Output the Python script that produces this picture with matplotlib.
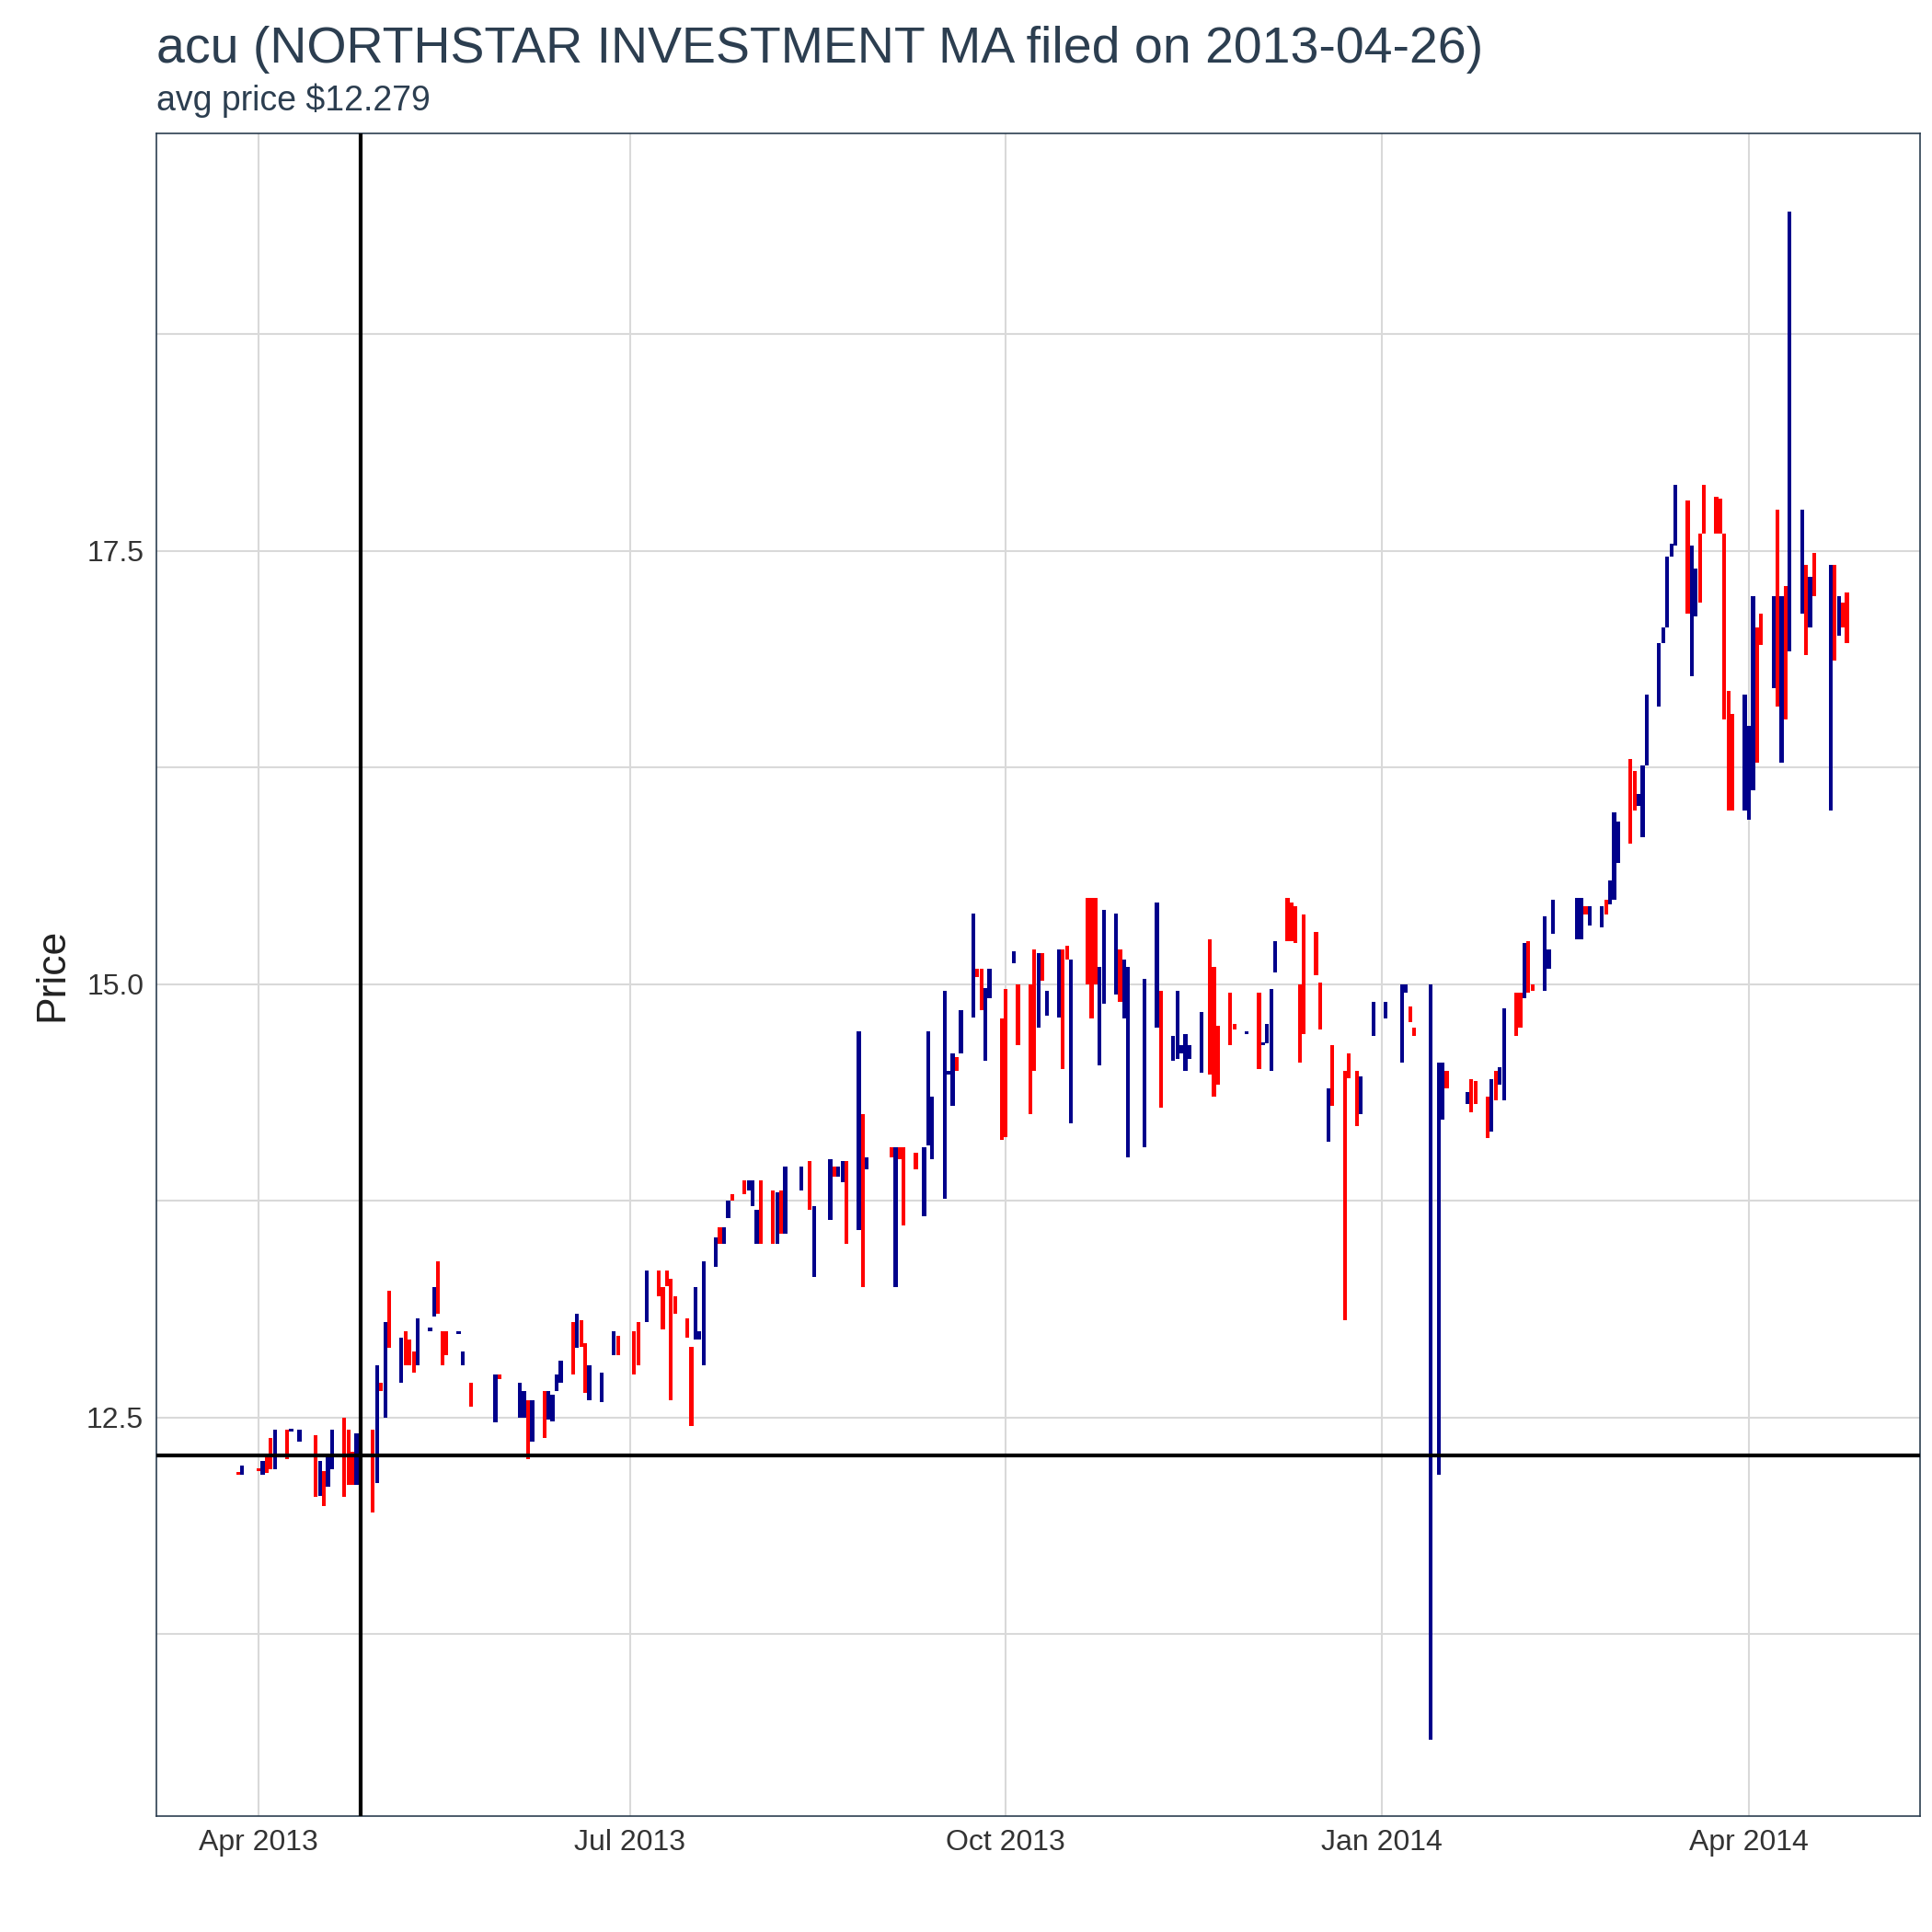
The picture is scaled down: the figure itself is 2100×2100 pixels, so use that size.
import matplotlib
matplotlib.use("Agg")
import matplotlib.pyplot as plt
import pandas as pd
import numpy as np

plt.rcParams['font.family'] = ['Liberation Sans', 'DejaVu Sans']

dates = ["2013-03-27","2013-03-28","2013-04-01","2013-04-02","2013-04-03","2013-04-04","2013-04-05","2013-04-08","2013-04-09","2013-04-11",
"2013-04-15","2013-04-16","2013-04-17","2013-04-18","2013-04-19","2013-04-22","2013-04-23","2013-04-24","2013-04-25","2013-04-26",
"2013-04-29","2013-04-30","2013-05-01","2013-05-02","2013-05-03","2013-05-06","2013-05-07","2013-05-08","2013-05-09","2013-05-10",
"2013-05-13","2013-05-14","2013-05-15","2013-05-16","2013-05-17","2013-05-20","2013-05-21","2013-05-23","2013-05-29","2013-05-30",
"2013-06-04","2013-06-05","2013-06-06","2013-06-07","2013-06-10","2013-06-11","2013-06-12","2013-06-13","2013-06-14","2013-06-17",
"2013-06-18","2013-06-19","2013-06-20","2013-06-21","2013-06-24","2013-06-27","2013-06-28","2013-07-02","2013-07-03","2013-07-05",
"2013-07-08","2013-07-09","2013-07-10","2013-07-11","2013-07-12","2013-07-15","2013-07-16","2013-07-17","2013-07-18","2013-07-19",
"2013-07-22","2013-07-23","2013-07-24","2013-07-25","2013-07-26","2013-07-29","2013-07-30","2013-07-31","2013-08-01","2013-08-02",
"2013-08-05","2013-08-06","2013-08-07","2013-08-08","2013-08-12","2013-08-14","2013-08-15","2013-08-19","2013-08-20","2013-08-21",
"2013-08-22","2013-08-23","2013-08-26","2013-08-27","2013-08-28","2013-09-03","2013-09-04","2013-09-05","2013-09-06","2013-09-09",
"2013-09-11","2013-09-12","2013-09-13","2013-09-16","2013-09-17","2013-09-18","2013-09-19","2013-09-20","2013-09-23","2013-09-24",
"2013-09-25","2013-09-26","2013-09-27","2013-09-30","2013-10-01","2013-10-03","2013-10-04","2013-10-07","2013-10-08","2013-10-09",
"2013-10-10","2013-10-11","2013-10-14","2013-10-15","2013-10-16","2013-10-17","2013-10-21","2013-10-22","2013-10-23","2013-10-24",
"2013-10-25","2013-10-28","2013-10-29","2013-10-30","2013-10-31","2013-11-04","2013-11-07","2013-11-08","2013-11-11","2013-11-12",
"2013-11-13","2013-11-14","2013-11-15","2013-11-18","2013-11-20","2013-11-21","2013-11-22","2013-11-25","2013-11-26","2013-11-29",
"2013-12-02","2013-12-03","2013-12-04","2013-12-05","2013-12-06","2013-12-09","2013-12-10","2013-12-11","2013-12-12","2013-12-13",
"2013-12-16","2013-12-17","2013-12-19","2013-12-20","2013-12-23","2013-12-24","2013-12-26","2013-12-27","2013-12-30","2014-01-02",
"2014-01-06","2014-01-07","2014-01-08","2014-01-09","2014-01-13","2014-01-15","2014-01-16","2014-01-17","2014-01-22","2014-01-23",
"2014-01-24","2014-01-27","2014-01-28","2014-01-29","2014-01-30","2014-01-31","2014-02-03","2014-02-04","2014-02-05","2014-02-06",
"2014-02-07","2014-02-10","2014-02-11","2014-02-12","2014-02-18","2014-02-19","2014-02-20","2014-02-21","2014-02-24","2014-02-25",
"2014-02-26","2014-02-27","2014-02-28","2014-03-03","2014-03-04","2014-03-05","2014-03-06","2014-03-07","2014-03-10","2014-03-11",
"2014-03-12","2014-03-13","2014-03-14","2014-03-17","2014-03-18","2014-03-19","2014-03-20","2014-03-21","2014-03-24","2014-03-25",
"2014-03-26","2014-03-27","2014-03-28","2014-03-31","2014-04-01","2014-04-02","2014-04-03","2014-04-04","2014-04-07","2014-04-08",
"2014-04-09","2014-04-10","2014-04-11","2014-04-14","2014-04-15","2014-04-16","2014-04-17","2014-04-21","2014-04-22","2014-04-23",
"2014-04-24","2014-04-25"]

lows = [12.17,12.17,12.19,12.17,12.18,12.20,12.20,12.26,12.42,12.36,
12.04,12.05,11.99,12.10,12.20,12.04,12.11,12.11,12.11,12.22,
11.95,12.12,12.65,12.50,12.90,12.70,12.80,12.80,12.76,12.80,
13.00,13.08,13.10,12.80,12.86,12.98,12.80,12.56,12.47,12.72,
12.50,12.50,12.26,12.36,12.38,12.49,12.48,12.65,12.70,12.75,
12.90,12.91,12.64,12.60,12.59,12.86,12.86,12.75,12.80,13.05,
13.20,13.01,13.26,12.60,13.10,12.96,12.45,12.95,12.95,12.80,
13.37,13.50,13.50,13.65,13.75,13.79,13.81,13.72,13.50,13.50,
13.50,13.50,13.56,13.56,13.81,13.70,13.31,13.64,13.89,13.89,
13.86,13.50,13.58,13.25,13.93,14.00,13.25,13.99,13.61,13.93,
13.66,14.07,13.99,13.76,14.48,14.30,14.50,14.60,14.81,15.04,
14.85,14.56,14.92,14.10,14.12,15.12,14.65,14.25,14.50,14.75,
15.02,14.82,14.81,14.51,15.14,14.20,15.00,14.80,15.00,14.53,
14.89,14.94,14.90,14.80,14.00,14.06,14.75,14.29,14.56,14.57,
14.60,14.50,14.57,14.49,14.48,14.35,14.42,14.65,14.74,14.71,
14.51,14.65,14.66,14.50,15.07,15.25,15.25,15.24,14.55,14.71,
15.05,14.74,14.09,14.30,13.06,14.46,14.18,14.25,14.70,14.80,
14.55,14.95,14.78,14.70,10.64,12.17,14.22,14.40,14.31,14.26,
14.31,14.11,14.15,14.33,14.42,14.33,14.70,14.75,14.92,14.95,
14.96,14.96,15.09,15.29,15.26,15.26,15.40,15.34,15.33,15.40,
15.46,15.49,15.70,15.81,16.00,16.03,15.85,16.26,16.60,16.97,
17.06,17.47,17.53,17.14,16.78,17.12,17.20,17.60,17.60,17.60,
16.53,16.00,16.00,16.00,15.95,16.12,16.28,16.96,16.71,16.60,
16.28,16.53,16.92,17.14,16.90,17.06,17.24,16.00,16.87,17.01,
17.06,16.97]

highs = [12.18,12.22,12.20,12.25,12.27,12.38,12.43,12.43,12.43,12.43,
12.40,12.25,12.19,12.27,12.43,12.50,12.43,12.30,12.41,12.43,
12.43,12.80,12.70,13.05,13.23,12.96,13.00,12.95,12.88,13.07,
13.02,13.25,13.40,13.00,13.00,13.00,12.88,12.70,12.75,12.75,
12.70,12.65,12.60,12.60,12.65,12.65,12.63,12.75,12.83,13.05,
13.10,13.06,12.93,12.80,12.76,13.00,12.97,13.00,13.05,13.35,
13.35,13.25,13.35,13.30,13.20,13.07,12.91,13.25,13.00,13.40,
13.54,13.60,13.60,13.75,13.79,13.87,13.87,13.87,13.70,13.87,
13.81,13.80,13.81,13.95,13.95,13.98,13.72,13.99,13.95,13.95,
13.98,13.98,14.73,14.25,14.00,14.06,14.06,14.06,14.06,14.03,
14.06,14.73,14.35,14.96,14.50,14.60,14.58,14.85,15.41,15.09,
15.09,14.98,15.09,14.80,14.97,15.19,15.00,15.00,15.20,15.18,
15.18,14.96,15.20,15.20,15.22,15.14,15.50,15.50,15.50,15.10,
15.43,15.41,15.20,15.14,15.10,15.03,15.47,14.96,14.70,14.96,
14.65,14.71,14.65,14.84,15.26,15.10,14.76,14.95,14.77,14.73,
14.95,14.66,14.77,14.97,15.25,15.50,15.47,15.45,15.00,15.40,
15.30,15.01,14.40,14.65,14.50,14.60,14.50,14.47,14.90,14.90,
15.00,15.00,14.87,14.75,15.00,14.55,14.55,14.50,14.38,14.45,
14.44,14.35,14.45,14.50,14.52,14.86,14.95,14.95,15.24,15.25,
15.00,15.39,15.20,15.49,15.50,15.50,15.45,15.45,15.45,15.49,
15.60,15.99,15.94,16.30,16.23,16.10,16.26,16.67,16.97,17.06,
17.47,17.54,17.88,17.79,17.53,17.40,17.60,17.88,17.81,17.80,
17.60,16.69,16.56,16.67,16.49,17.24,17.06,17.14,17.24,17.74,
17.24,17.30,19.46,17.74,17.42,17.35,17.49,17.42,17.42,17.24,
17.20,17.26]

# 'u' = blue (up day), 'd' = red (down day)
direction = ("dududduduu" "duduuddduu" "dudududddu" "uuddduudud" "uududuuuud"
             "udduuudddu" "ddddddduuu" "uduudduuud" "duduuduudu" "ududududdd"
             "uuuuuuduud" "duudduddd" "u" "duudduddd" "u" "uuduuuuduu" "uuuudddddu"
             "duuuuddddd" "ddudddduuu" "uudduuudud" "dduduuddud" "duuuuuduud"
             "uuudduuuuu" "uuuduudddd" "ddduuuddud" "uduududud" "u" "dd")

n = min(len(dates), len(lows), len(highs), len(direction))
d = pd.to_datetime(dates[:n])
lo = np.array(lows[:n]); hi = np.array(highs[:n])
cols = ["#00008B" if c == "u" else "#FF0000" for c in direction[:n]]

fig = plt.figure(figsize=(21, 21), dpi=100)
ax = fig.add_axes([0.081, 0.060, 0.913, 0.871])
ax.bar(d, np.maximum(hi - lo, 0.015), bottom=lo, width=0.95, color=cols, linewidth=0, zorder=3)
ax.axhline(12.279, color="black", lw=3, zorder=4)
ax.axvline(pd.Timestamp("2013-04-26"), color="black", lw=3, zorder=4)

ax.set_xlim(pd.Timestamp("2013-03-07"), pd.Timestamp("2014-05-13"))
ax.set_ylim(10.2, 19.91)
ax.set_yticks([12.5, 15.0, 17.5])
ax.set_yticks([11.25, 13.75, 16.25, 18.75], minor=True)
ticks = pd.to_datetime(["2013-04-01", "2013-07-01", "2013-10-01", "2014-01-01", "2014-04-01"])
ax.set_xticks(ticks)
ax.set_xticklabels(["Apr 2013", "Jul 2013", "Oct 2013", "Jan 2014", "Apr 2014"])
ax.grid(True, which="both", color="#D9D9D9", lw=1.5, zorder=0)
ax.tick_params(axis="both", which="both", length=0, labelsize=23, colors="#333333", pad=10)
for s in ax.spines.values():
    s.set_color("#2C3E50"); s.set_linewidth(1.2)
ax.set_ylabel("Price", fontsize=32, color="#222222", labelpad=12)
fig.text(0.081, 0.962, "acu (NORTHSTAR INVESTMENT MA filed on 2013-04-26)", fontsize=40, color="#2C3E50", va="bottom")
fig.text(0.081, 0.939, "avg price $12.279", fontsize=27, color="#2C3E50", va="bottom")
fig.savefig("out.png", dpi=100)
